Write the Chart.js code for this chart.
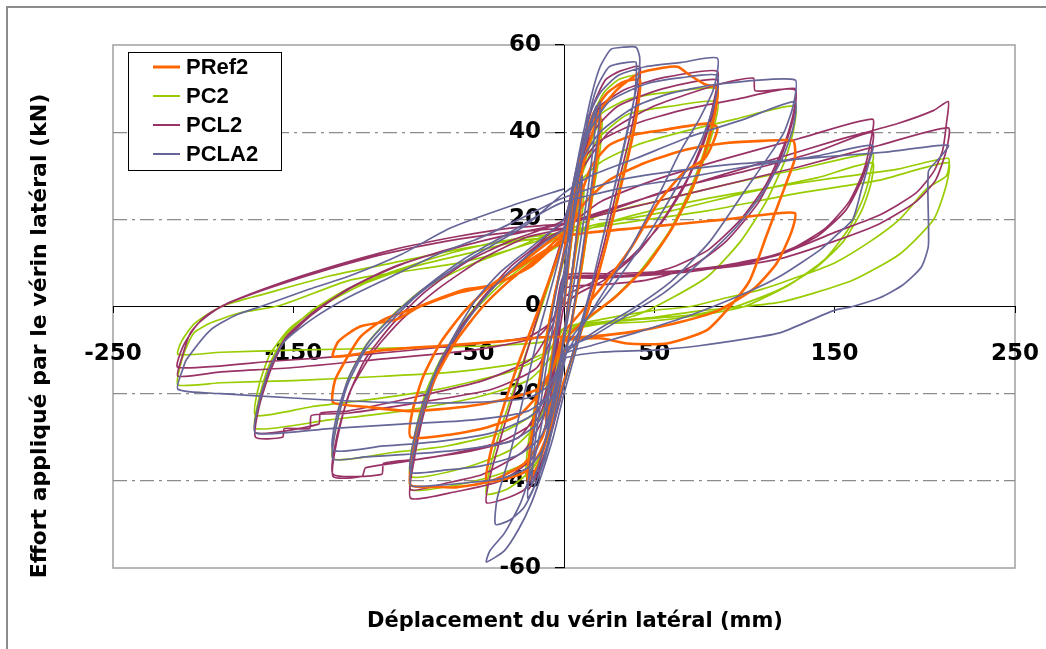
<!DOCTYPE html>
<html>
<head>
<meta charset="utf-8">
<script src="https://cdn.jsdelivr.net/npm/chart.js@4.4.0/dist/chart.umd.min.js"></script>
<style>
html, body { margin: 0; padding: 0; background: #fff; }
#cadre { position: relative; width: 1046px; height: 649px; }
</style>
</head>
<body>
<div id="cadre"><canvas id="graphique" width="1046" height="649"></canvas></div>
<script>
// series names and colours (legend order)
var nomsSeries = ['PRef2', 'PC2', 'PCL2', 'PCLA2'];
var couleurs = ['#ff6600', '#99cc00', '#993366', '#666699'];
var titreX = 'Déplacement du vérin latéral (mm)';
var titreY = 'Effort appliqué par le vérin latéral (kN)';
var ticksX = [-250, -150, -50, 50, 150, 250];
var ticksY = [-60, -40, -20, 0, 20, 40, 60];

// déplacement (mm), effort (kN), cycle by cycle
var pRef2 = [
  [0,0],[3,12],[6,21],[10,28],[9,22],[6,12],[2,-1],[-2,-12],[-6,-20],[-10,-26],[-9,-20],[-6,-10],[-2,2],
  [2,10],[6,22],[11,33],[16,40],[20,44],[19,37],[15,24],[10,10],[4,-4],[-2,-16],[-8,-28],[-14,-36],[-20,-40],[-19,-33],[-15,-21],[-10,-8],[-5,3],[0,12],
  [5,24],[10,35],[16,44],[24,49],[33,51.5],[42,52],[41,46],[37,37],[30,25],[22,12],[14,0],[6,-10],[0,-17],[-7,-27],[-14,-34],[-22,-38],[-32,-39.5],[-43,-40],[-41,-34],[-35,-25],[-27,-15],[-18,-5],[-10,4],[-3,12],[0,16],
  [6,28],[12,38],[20,45],[30,50],[42,53.6],[55,54.8],[63,55],[70,53],[78,51],[85,50],[84,45],[80,38],[72,28],[60,18],[45,9],[28,2],[12,-3],[0,-8],[-6,-20],[-12,-30],[-22,-36],[-40,-40],[-60,-41.5],[-69,-41.4],[-85,-41],[-84,-34],[-80,-26],[-72,-17],[-60,-8],[-45,0],[-30,6],[-15,11],[-5,15],[0,17],
  [8,24],[15,32],[25,37],[40,39.5],[55,40.5],[70,41.5],[81,42],[85,41],[83,38],[78,34],[66,30.6],[52,23.7],[38,14],[22,5],[8,-2],[0,-6],[-6,-14],[-14,-20],[-25,-25],[-45,-28],[-65,-29.5],[-85,-30],[-84,-24],[-78,-16],[-68,-8],[-55,-1],[-40,5],[-25,9],[-10,13],[0,15],
  [10,23],[25,29],[45,33],[68,36],[90,37.5],[110,38],[127,38],[128,34],[122,27],[112,16],[103,6],[92,0],[79,-5.5],[57,-8.5],[35,-8.5],[20,-7.3],[0,-8],[-6,-14],[-15,-19],[-35,-21.5],[-55,-23],[-85,-24],[-110,-23],[-128,-22],[-127,-17],[-122,-13],[-113,-7],[-100,-3],[-80,0],[-60,3],[-39,5],[-19,9],[-5,14],[0,16],
  [15,17],[40,18],[65,19],[90,20],[110,21],[128,21.4],[126,17],[118,10],[105,4],[85,-1],[60,-4],[35,-6],[10,-7],[-10,-7],[-35,-8],[-67,-9],[-100,-10],[-128,-11.5],[-125,-8],[-113,-4.6],[-93,-3],[-80,0],[-56,3.8],[-39,5],[-19,11.4],[-2,17]
];

var pC2 = [
  [0,0],[3,11],[6,20],[11,27],[10,21],[6,11],[2,-1],[-2,-11],[-6,-19],[-11,-25],[-10,-19],[-6,-9],[-2,2],
  [2,9],[6,21],[11,32],[16,39],[21,43],[20,36],[15,23],[10,9],[4,-4],[-2,-15],[-8,-27],[-14,-35],[-21,-39],[-20,-32],[-15,-20],[-10,-7],[-5,3],[0,11],
  [5,24],[10,35],[15,43],[22,49],[30,52],[38,53],[42,53],[41,47],[37,38],[30,26],[22,12],[14,0],[6,-10],[0,-18],[-7,-28],[-14,-35],[-22,-39],[-32,-42],[-43,-43],[-41,-37],[-35,-28],[-27,-18],[-18,-7],[-10,3],[-3,12],[0,16],
  [6,28],[12,38],[20,44],[35,47.5],[55,49],[85,50],[83,44],[78,36],[70,27],[58,17],[42,8],[25,1],[10,-4],[0,-8],[-6,-20],[-12,-30],[-22,-36],[-40,-39],[-60,-41],[-85,-42],[-83,-33],[-78,-23],[-70,-14],[-58,-5],[-45,2],[-30,8],[-15,13],[0,17],
  [8,28],[18,38],[35,44],[60,46],[85,47],[83,41],[77,33],[68,24],[55,15],[40,7],[22,0],[8,-4],[0,-7],[-7,-18],[-15,-27],[-30,-33],[-55,-37],[-85,-39],[-83,-30],[-77,-20],[-67,-11],[-54,-3],[-38,4],[-20,10],[0,15],
  [8,28],[20,33],[40,37],[65,40],[95,43],[128,46],[127,40],[122,33],[112,24],[98,15],[80,7],[60,2],[40,-2],[20,-4],[0,-6],[-6,-16],[-15,-24],[-35,-29],[-65,-32],[-95,-33.5],[-128,-35],[-126,-27],[-120,-17],[-110,-9],[-95,-2],[-78,4],[-55,9],[-30,13],[0,17],
  [20,21],[50,24],[90,28],[130,31.5],[171,35],[170,31],[166,25],[158,18],[145,11],[125,5],[100,0],[75,-2],[45,-3.5],[20,-4],[0,-5],[-8,-12],[-20,-17],[-50,-21],[-90,-24],[-130,-26],[-171,-28],[-169,-21],[-164,-14],[-155,-7],[-140,-1],[-120,4],[-95,8],[-65,12],[-35,15],[0,17],
  [20,19],[60,22],[100,26],[140,29.5],[171,33],[170,28],[165,22],[155,15],[140,9],[120,4],[95,0],[70,-2],[40,-3],[15,-4],[0,-5],[-10,-11],[-30,-15],[-70,-19],[-110,-21.5],[-140,-23],[-171,-25],[-169,-18],[-163,-11],[-152,-5],[-135,0],[-112,5],[-85,9],[-55,12],[-25,15],[0,16],
  [30,20],[70,24],[110,27],[150,29.5],[185,31.5],[213,34],[212,30],[201,27],[186,20],[170,15],[150,10],[131,7],[110,4],[90,2],[70,0],[48,-1],[20,-3],[0,-5],[-8,-10],[-25,-13],[-60,-15],[-100,-16],[-150,-17],[-190,-17.5],[-214,-18],[-213,-14],[-210,-10],[-205,-6],[-196,-3.8],[-180,-1.5],[-157,0.3],[-119,6],[-90,8],[-58,10],[-30,13],[-12,16],[0,17],
  [30,19],[80,22],[130,26],[175,29],[213,33],[212,28],[205,20],[186,12],[160,6],[138,3],[120,1],[100,0],[75,-1],[50,-2.5],[20,-3.6],[0,-5],[-10,-8],[-40,-9],[-90,-9.5],[-150,-10],[-190,-10.5],[-214,-11],[-212,-8],[-205,-4],[-190,0],[-165,3],[-130,7],[-95,10],[-60,13],[-30,15],[0,16]
];

var pCL2 = [
  [0,0],[3,13],[6,23],[10,30],[9,24],[6,13],[2,0],[-2,-12],[-6,-22],[-10,-28],[-9,-22],[-6,-11],[-2,2],
  [2,10],[6,24],[11,35],[16,42],[20,46],[19,39],[15,26],[10,11],[4,-4],[-2,-17],[-8,-30],[-14,-38],[-20,-42],[-19,-35],[-15,-22],[-10,-9],[-5,3],[0,13],
  [5,25],[10,37],[16,46],[23,52],[31,54],[42,55],[41,49],[37,40],[30,28],[22,14],[14,2],[6,-9],[0,-18],[-7,-29],[-14,-37],[-22,-42],[-32,-44],[-43,-45],[-41,-39],[-35,-30],[-27,-19],[-18,-7],[-10,4],[-3,13],[0,18],
  [6,30],[12,40],[20,46],[35,50],[55,52.5],[85,54],[83,47],[78,39],[68,29],[55,20],[40,12],[22,6],[8,3],[0,0],[-5,-14],[-10,-27],[-18,-35],[-35,-40],[-60,-42.5],[-85,-44],[-83,-35],[-78,-25],[-70,-15],[-58,-6],[-45,2],[-30,9],[-15,14],[-5,18],[0,19],
  [7,30],[16,40],[30,46],[55,50],[85,52],[83,45],[77,37],[66,27],[52,18],[36,11],[18,6],[0,2],[-5,-12],[-11,-25],[-22,-33],[-45,-38.5],[-65,-40.5],[-85,-42],[-83,-33],[-77,-23],[-68,-13],[-56,-4],[-40,4],[-22,11],[-8,16],[0,18],
  [8,32],[20,38],[40,42],[65,45],[95,47.5],[128,50],[127,44],[122,37],[112,28],[98,20],[80,13],[60,9],[40,7],[20,6.5],[0,6],[-4,-6],[-8,-18],[-15,-26],[-35,-31],[-65,-34],[-95,-36],[-110,-37],[-112,-39],[-128,-39],[-126,-31],[-120,-21],[-110,-12],[-95,-4],[-78,3],[-55,10],[-30,15],[-10,18],[0,20],
  [8,30],[25,40],[50,46],[86,51],[105,52.4],[106,49.5],[128,49.7],[127,43],[120,34],[108,24],[90,15],[70,9],[45,6],[20,5],[0,4],[-5,-10],[-12,-22],[-25,-30],[-50,-33],[-80,-35],[-100,-36],[-101,-38.5],[-128,-38.5],[-126,-30],[-118,-19],[-105,-10],[-90,-3],[-70,4],[-45,11],[-20,16],[0,18],
  [20,24],[50,29],[90,34],[130,38.5],[171,43],[170,38],[166,31],[158,24],[145,18],[125,13],[100,10],[70,8],[40,7],[15,7],[0,6],[-5,-5],[-15,-14],[-40,-19],[-80,-22],[-120,-24.5],[-140,-25],[-141,-28],[-155,-28],[-156,-30],[-171,-30],[-169,-23],[-163,-15],[-155,-8],[-140,-2],[-120,4],[-95,9],[-65,13],[-35,16],[0,19],
  [25,22],[60,27],[100,31],[140,35.5],[171,40],[170,35],[165,29],[156,22],[140,16],[118,12],[90,9.5],[60,8],[30,7],[0,6],[-6,-4],[-18,-12],[-45,-17],[-85,-21],[-120,-24],[-135,-24.5],[-136,-27],[-171,-29],[-169,-22],[-163,-14],[-154,-7],[-138,-1],[-115,5],[-88,10],[-55,14],[-25,17],[0,19],
  [30,23],[70,28],[110,33],[150,38],[185,42],[205,45],[213,47],[212,42],[210,36],[205,31],[195,26],[175,21],[150,17],[120,12],[90,9],[60,8],[30,7],[0,6.5],[-5,-2],[-15,-7],[-50,-10],[-100,-12],[-150,-14],[-190,-15],[-214,-16],[-212,-12],[-207,-6],[-198,-2],[-185,1],[-160,5],[-130,9],[-95,13],[-60,16],[-30,18],[0,19],
  [30,22],[80,27],[130,32],[175,37],[213,41],[212,36],[206,29],[195,24],[175,19],[150,15],[120,11],[90,9],[55,8],[25,7.5],[0,7],[-6,-3],[-20,-7],[-60,-9],[-110,-11],[-160,-12.5],[-214,-14],[-211,-9],[-203,-4],[-190,0],[-165,4],[-135,8],[-100,12],[-65,15],[-30,17],[0,18]
];

var pCLA2 = [
  [0,0],[3,13],[6,22],[10,30],[9,24],[6,13],[2,0],[-2,-12],[-6,-21],[-10,-28],[-9,-22],[-6,-11],[-2,2],
  [2,10],[6,24],[11,36],[16,43],[20,47],[19,40],[15,27],[10,12],[4,-4],[-2,-18],[-8,-31],[-14,-39],[-20,-44],[-19,-37],[-15,-24],[-10,-10],[-5,2],[0,12],
  [3,16],[8,30],[13,40],[18,46],[16,36],[11,20],[5,4],[-1,-10],[-7,-24],[-13,-35],[-18,-41],[-16,-31],[-11,-17],[-5,-2],[0,8],
  [5,26],[10,38],[15,48],[20,55],[26,59],[33,59.5],[40,59.5],[42,57],[41,52],[37,44],[31,33],[24,20],[16,6],[8,-8],[0,-20],[-6,-30],[-12,-38],[-18,-45],[-25,-51],[-33,-56],[-43,-58.6],[-41,-56],[-33,-52],[-24,-45],[-17,-36],[-11,-24],[-6,-12],[-1,2],[3,14],
  [8,30],[13,42],[18,50],[25,55],[35,56],[40,56],[39,48],[33,36],[25,22],[16,6],[8,-6],[0,-18],[-8,-30],[-15,-40],[-22,-46],[-30,-49],[-38,-50],[-37,-44],[-30,-34],[-22,-20],[-14,-6],[-6,6],[0,16],
  [6,30],[12,42],[20,49],[30,53],[45,55],[65,56],[85,57],[83,50],[75,43],[65,36],[59,31],[48,22],[35,12],[20,2],[8,-6],[0,-12],[-6,-24],[-12,-33],[-20,-37],[-35,-39.5],[-55,-40.5],[-70,-41],[-85,-41],[-83,-33],[-78,-24],[-70,-14],[-60,-6],[-48,2],[-35,8],[-20,13],[-8,17],[0,20],
  [6,28],[14,40],[25,47],[45,51],[65,52.5],[85,53],[83,46],[76,38],[66,30],[52,20],[38,11],[22,2],[8,-5],[0,-10],[-6,-22],[-13,-30],[-25,-34],[-45,-36.5],[-65,-37.5],[-85,-38],[-83,-30],[-77,-21],[-68,-12],[-55,-4],[-40,4],[-25,10],[-10,15],[0,18],
  [8,32],[20,40],[40,46],[60,49],[85,51],[128,52],[127,46],[122,40],[116,36],[101,27],[81,15],[60,6],[40,0],[20,-5],[0,-11],[-6,-20],[-15,-27],[-30,-31],[-60,-33],[-90,-34],[-110,-34.5],[-128,-35],[-126,-27],[-120,-18],[-110,-10],[-95,-3],[-80,3],[-60,9],[-40,14],[-20,19],[0,26],
  [15,30],[40,34],[70,39],[100,43],[128,47],[127,41],[121,34],[110,26],[95,18],[75,10],[55,3],[35,-2],[15,-7],[0,-10],[-7,-19],[-18,-25],[-40,-29],[-70,-31],[-100,-32],[-128,-33],[-126,-25],[-119,-16],[-108,-8],[-92,-1],[-75,5],[-55,11],[-30,17],[-10,22],[0,24],
  [30,27],[60,29],[100,32],[140,34.5],[171,37],[169,33],[165,27],[160,20],[150,16],[142,13],[120,7],[100,3],[70,-2],[40,-6],[15,-9],[0,-11],[-8,-20],[-20,-24],[-50,-26],[-90,-27],[-130,-28],[-171,-29],[-169,-22],[-163,-14],[-155,-8],[-140,-3],[-120,2],[-95,7],[-70,12],[-45,16],[-20,21],[0,25],
  [30,29],[60,31],[90,32.5],[120,33.5],[150,34.5],[180,35.5],[213,37],[208,34],[202,31],[202,14],[198,9],[188,5],[175,2],[160,0],[149,-1],[120,-6],[100,-7.5],[75,-9],[50,-10],[20,-10.5],[0,-12],[-8,-18],[-20,-21],[-50,-22],[-100,-22],[-150,-21],[-190,-20],[-214,-19],[-211,-14],[-209,-12],[-196,-5.4],[-182,-2],[-168,0],[-141,4],[-119,7],[-90,12],[-63,18],[-30,23],[0,27]
];

var toutesSeries = [pRef2, pC2, pCL2, pCLA2];
var epaisseurs = [2.6, 1.7, 1.7, 1.7];
var ordres = [1, 3, 2, 0]; // PCLA2 drawn on top

function enPoints(liste) {
  return liste.map(function(p) { return {x: p[0], y: p[1]}; });
}

var datasets = toutesSeries.map(function(serie, i) {
  return {
    label: nomsSeries[i],
    data: enPoints(serie),
    borderColor: couleurs[i],
    backgroundColor: couleurs[i],
    borderWidth: epaisseurs[i],
    pointRadius: 0,
    fill: false,
    tension: 0.2,
    order: ordres[i]
  };
});

// frame, plot border, legend box and axis titles
var decor = {
  id: 'decor',
  beforeDraw: function(chart) {
    var ctx = chart.ctx, a = chart.chartArea;
    ctx.save();
    ctx.fillStyle = '#fff';
    ctx.fillRect(0, 0, chart.width, chart.height);
    ctx.strokeStyle = '#8c8c8c';
    ctx.lineWidth = 2;
    ctx.beginPath();
    ctx.moveTo(7, chart.height);
    ctx.lineTo(7, 7);
    ctx.lineTo(chart.width, 7);
    ctx.stroke();
    ctx.strokeStyle = '#a0a0a0';
    ctx.lineWidth = 1.5;
    ctx.strokeRect(a.left, a.top, a.right - a.left, a.bottom - a.top);
    ctx.restore();
  },
  afterDraw: function(chart) {
    var ctx = chart.ctx;
    ctx.save();
    // légende
    ctx.fillStyle = '#fff';
    ctx.fillRect(128, 52, 153, 118);
    ctx.strokeStyle = '#000';
    ctx.lineWidth = 1;
    ctx.strokeRect(128.5, 52.5, 153, 118);
    ctx.font = 'bold 22px "Liberation Sans", Arial, sans-serif';
    ctx.textBaseline = 'middle';
    ctx.textAlign = 'left';
    for (var i = 0; i < nomsSeries.length; i++) {
      var y = 67 + i * 29;
      ctx.strokeStyle = couleurs[i];
      ctx.lineWidth = i === 0 ? 3 : 2;
      ctx.beginPath();
      ctx.moveTo(153, y);
      ctx.lineTo(180, y);
      ctx.stroke();
      ctx.fillStyle = '#000';
      ctx.fillText(nomsSeries[i], 186, y + 1);
    }
    // titres des axes
    ctx.fillStyle = '#000';
    ctx.textAlign = 'center';
    ctx.font = 'bold 21px "DejaVu Sans", sans-serif';
    ctx.fillText(titreX, 575, 622);
    ctx.font = 'bold 22px "DejaVu Sans", sans-serif';
    ctx.translate(40, 336);
    ctx.rotate(-Math.PI / 2);
    ctx.fillText(titreY, 0, 0);
    ctx.restore();
  }
};

var policeTicks = {family: '"DejaVu Sans", sans-serif', size: 23, weight: 'bold'};

var ctx = document.getElementById('graphique').getContext('2d');
var graphique = new Chart(ctx, {
  type: 'line',
  data: {datasets: datasets},
  options: {
    responsive: false,
    animation: false,
    devicePixelRatio: 1,
    events: [],
    layout: {padding: {left: 113, top: 45, right: 31, bottom: 81}},
    plugins: {legend: {display: false}, tooltip: {enabled: false}},
    scales: {
      x: {
        type: 'linear',
        position: {y: 0},
        min: ticksX[0],
        max: ticksX[ticksX.length - 1],
        afterBuildTicks: function(scale) { scale.ticks = ticksX.map(function(v) { return {value: v}; }); },
        afterFit: function(scale) { scale.paddingLeft = 0; scale.paddingRight = 0; },
        ticks: {color: '#000', font: policeTicks, padding: 28, maxRotation: 0, autoSkip: false},
        grid: {drawOnChartArea: false, drawTicks: true, tickLength: 6, tickColor: '#000'},
        border: {color: '#000', width: 1}
      },
      y: {
        type: 'linear',
        position: {x: 0},
        min: ticksY[0],
        max: ticksY[ticksY.length - 1],
        afterBuildTicks: function(scale) { scale.ticks = ticksY.map(function(v) { return {value: v}; }); },
        ticks: {
          color: '#000',
          font: policeTicks,
          autoSkip: false,
          // labels sit against the centred axis: keep them clear of the tick marks
          callback: function(v) { return v + '\u2002\u2002'; }
        },
        grid: {
          color: function(c) {
            var v = c.tick ? c.tick.value : 0;
            return (v === 0 || v === 60 || v === -60) ? 'rgba(0,0,0,0)' : '#8c8c8c';
          },
          lineWidth: 1.2,
          tickLength: 9,
          tickColor: '#000'
        },
        border: {color: '#000', width: 1, dash: [14, 5, 3, 5]}
      }
    }
  },
  plugins: [decor]
});
</script>
</body>
</html>
